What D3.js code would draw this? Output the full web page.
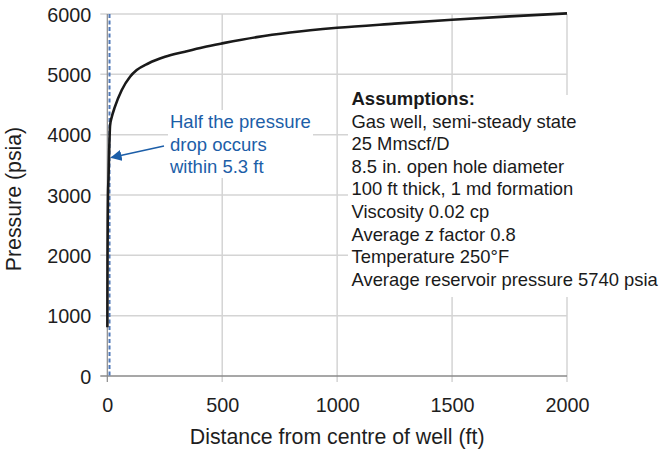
<!DOCTYPE html>
<html>
<head>
<meta charset="utf-8">
<script src="https://cdn.jsdelivr.net/npm/d3@7"></script>
<style>
  html, body { margin: 0; padding: 0; background: #fff; }
  svg { display: block; font-family: "Liberation Sans", Arial, sans-serif; }
</style>
</head>
<body>
<svg id="chart" width="664" height="450"></svg>
<script>
// ---- data ----
const distanceFt = [0.354, 0.5, 1, 2, 3, 5.3, 8, 12, 20, 33, 63, 99, 128, 178, 251, 338, 418, 505, 650, 795, 1000, 1250, 1500, 1750, 2000];
const pressurePsia = [810, 1300, 2000, 2650, 3000, 3275, 3700, 4150, 4300, 4460, 4740, 4960, 5070, 5180, 5290, 5376, 5450, 5517, 5617, 5693, 5771, 5840, 5904, 5960, 6010];
const xTicks = [0, 500, 1000, 1500, 2000];
const yTicks = [0, 1000, 2000, 3000, 4000, 5000, 6000];
const halfDropDistance = 5.3;
const xTitle = "Distance from centre of well (ft)";
const yTitle = "Pressure (psia)";
const calloutLines = ["Half the pressure", "drop occurs", "within 5.3 ft"];
const assumptionTitle = "Assumptions:";
const assumptionLines = [
  "Gas well, semi-steady state",
  "25 Mmscf/D",
  "8.5 in. open hole diameter",
  "100 ft thick, 1 md formation",
  "Viscosity 0.02 cp",
  "Average z factor 0.8",
  "Temperature 250\u00B0F",
  "Average reservoir pressure 5740 psia"
];

// ---- layout ----
const svg = d3.select("#chart");
const L = 107.3, R = 567, T = 14, B = 376;
const x = d3.scaleLinear().domain([0, 2000]).range([L, R]);
const y = d3.scaleLinear().domain([0, 6000]).range([B, T]);

svg.append("rect").attr("width", 664).attr("height", 450).attr("fill", "#fff");

// gridlines
const grid = svg.append("g");
grid.selectAll("line.h").data(yTicks.filter(d => d > 0)).join("line")
  .attr("x1", L - 7).attr("x2", R)
  .attr("y1", d => y(d)).attr("y2", d => y(d))
  .attr("stroke", "#d4d4d4").attr("stroke-width", 1.5);
grid.selectAll("line.v").data(xTicks.filter(d => d > 0)).join("line")
  .attr("x1", d => x(d)).attr("x2", d => x(d))
  .attr("y1", T).attr("y2", B + 6)
  .attr("stroke", "#d4d4d4").attr("stroke-width", 1.5);

// axis lines
svg.append("line").attr("x1", L - 7).attr("x2", R).attr("y1", B).attr("y2", B)
  .attr("stroke", "#8a8a8a").attr("stroke-width", 1.5);
svg.append("line").attr("x1", L).attr("x2", L).attr("y1", T).attr("y2", B + 6)
  .attr("stroke", "#8a8a8a").attr("stroke-width", 1.2);

// tick labels via d3 axes (lines hidden)
const xAxis = svg.append("g").attr("transform", `translate(0,${B})`)
  .call(d3.axisBottom(x).tickValues(xTicks).tickSize(0).tickPadding(26).tickFormat(d3.format("d")));
const yAxis = svg.append("g").attr("transform", `translate(${L},0)`)
  .call(d3.axisLeft(y).tickValues(yTicks).tickSize(0).tickPadding(16).tickFormat(d3.format("d")));
[xAxis, yAxis].forEach(a => {
  a.select(".domain").remove();
  a.selectAll("text").attr("font-size", 19.8).attr("fill", "#1e1e1e")
    .attr("font-family", "'Liberation Sans', Arial, sans-serif");
});
xAxis.selectAll("text").attr("dy", "0").attr("y", 36);
yAxis.selectAll("text").attr("dy", "0.36em");

// axis titles
svg.append("text").attr("x", (L + R) / 2).attr("y", 444)
  .attr("text-anchor", "middle").attr("font-size", 21.3).attr("fill", "#1e1e1e").text(xTitle);
svg.append("text").attr("transform", "translate(21,199) rotate(-90)")
  .attr("text-anchor", "middle").attr("font-size", 21.3).attr("fill", "#1e1e1e").text(yTitle);

// white backgrounds for text boxes (cover gridlines)
svg.append("rect").attr("x", 168).attr("y", 110).attr("width", 145).attr("height", 68).attr("fill", "#fff");
svg.append("rect").attr("x", 348).attr("y", 95).attr("width", 316).attr("height", 202).attr("fill", "#fff");

// dashed blue line at half-drop distance
svg.append("line")
  .attr("x1", x(halfDropDistance) + 1).attr("x2", x(halfDropDistance) + 1)
  .attr("y1", y(6000)).attr("y2", y(0))
  .attr("stroke", "#4f78b8").attr("stroke-width", 2).attr("stroke-dasharray", "4,2.5");

// curve
const pts = distanceFt.map((d, i) => [d, pressurePsia[i]]);
svg.append("path").datum(pts)
  .attr("fill", "none").attr("stroke", "#1a1a1a").attr("stroke-width", 2.6)
  .attr("stroke-linejoin", "round")
  .attr("d", d3.line().x(d => x(d[0])).y(d => y(d[1])).curve(d3.curveMonotoneX));

// callout
const blue = "#1c5ea8";
const defs = svg.append("defs");
defs.append("marker").attr("id", "arr").attr("viewBox", "0 0 10 10")
  .attr("refX", 9).attr("refY", 5).attr("markerWidth", 7).attr("markerHeight", 7)
  .attr("orient", "auto-start-reverse")
  .append("path").attr("d", "M0,0 L10,5 L0,10 z").attr("fill", blue);
svg.append("line").attr("x1", 164).attr("y1", 146).attr("x2", 111.5).attr("y2", 157.5)
  .attr("stroke", blue).attr("stroke-width", 1.6).attr("marker-end", "url(#arr)");
svg.append("g").selectAll("text").data(calloutLines).join("text")
  .attr("x", 170).attr("y", (d, i) => 128 + i * 22.5)
  .attr("font-size", 18.5).attr("fill", blue).text(d => d);

// assumptions
const ag = svg.append("g");
ag.append("text").attr("x", 351.5).attr("y", 105).attr("font-size", 18.5)
  .attr("font-weight", "bold").attr("fill", "#1a1a1a").text(assumptionTitle);
ag.selectAll("text.l").data(assumptionLines).join("text").attr("class", "l")
  .attr("x", 351.5).attr("y", (d, i) => 127.5 + i * 22.6)
  .attr("font-size", 18.4).attr("fill", "#1a1a1a").text(d => d);
</script>
</body>
</html>
